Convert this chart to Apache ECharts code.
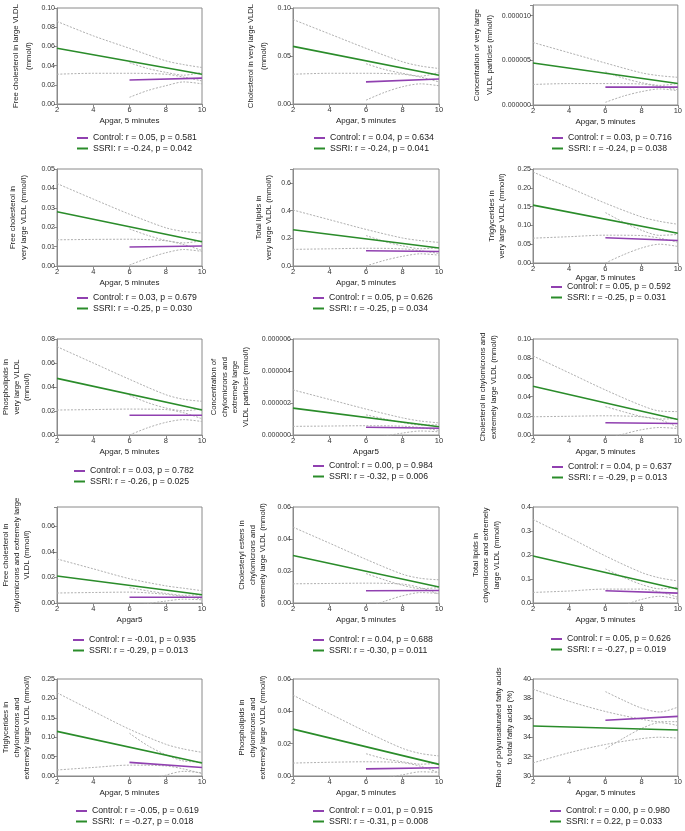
<!DOCTYPE html>
<html>
<head>
<meta charset="utf-8">
<script src="https://cdn.jsdelivr.net/npm/echarts@6/dist/echarts.min.js"></script>
<style>
  html, body { margin: 0; background: #fff; }
  #chart { width: 685px; height: 831px; }
</style>
</head>
<body>
<div id="chart"></div>
<script>
  // x positions of the read points
  const ssriX = [2, 10]
  const ssriCiX = [2, 4, 6, 8, 9, 10]
  const ctrlX = [6, 10]
  const ctrlCiX = [6, 7, 8, 9, 10]

  const yTitles = [
    'Free cholesterol in large VLDL\n(mmol/l)',
    'Cholesterol in very large VLDL\n(mmol/l)',
    'Concentration of very large\nVLDL particles (mmol/l)',
    'Free cholesterol in\nvery large VLDL (mmol/l)',
    'Total lipids in\nvery large VLDL (mmol/l)',
    'Triglycerides in\nvery large VLDL (mmol/l)',
    'Phospholipids in\nvery large VLDL\n(mmol/l)',
    'Concentration of\nchylomicrons and\nextremely large\nVLDL particles (mmol/l)',
    'Cholesterol in chylomicrons and\nextremely large VLDL (mmol/l)',
    'Free cholesterol in\nchylomicrons and extremely large\nVLDL (mmol/l)',
    'Cholesteryl esters in\nchylomicrons and\nextremely large VLDL (mmol/l)',
    'Total lipids in\nchylomicrons and extremely\nlarge VLDL (mmol/l)',
    'Triglycerides in\nchylomicrons and\nextremely large VLDL (mmol/l)',
    'Phospholipids in\nchylomicrons and\nextremely large VLDL (mmol/l)',
    'Ratio of polyunsaturated fatty acids\nto total fatty acids (%)'
  ]
  const xTitles = [
    'Apgar, 5 minutes', 'Apgar, 5 minutes', 'Apgar, 5 minutes',
    'Apgar, 5 minutes', 'Apgar, 5 minutes', 'Apgar, 5 minutes',
    'Apgar, 5 minutes', 'Apgar5', 'Apgar, 5 minutes',
    'Apgar5', 'Apgar, 5 minutes', 'Apgar, 5 minutes',
    'Apgar, 5 minutes', 'Apgar, 5 minutes', 'Apgar, 5 minutes'
  ]
  const ctrlLabels = [
    'Control: r = 0.05, p = 0.581', 'Control: r = 0.04, p = 0.634', 'Control: r = 0.03, p = 0.716',
    'Control: r = 0.03, p = 0.679', 'Control: r = 0.05, p = 0.626', 'Control: r = 0.05, p = 0.592',
    'Control: r = 0.03, p = 0.782', 'Control: r = 0.00, p = 0.984', 'Control: r = 0.04, p = 0.637',
    'Control: r = -0.01, p = 0.935', 'Control: r = 0.04, p = 0.688', 'Control: r = 0.05, p = 0.626',
    'Control: r = -0.05, p = 0.619', 'Control: r = 0.01, p = 0.915', 'Control: r = 0.00, p = 0.980'
  ]
  const ssriLabels = [
    'SSRI: r = -0.24, p = 0.042', 'SSRI: r = -0.24, p = 0.041', 'SSRI: r = -0.24, p = 0.038',
    'SSRI: r = -0.25, p = 0.030', 'SSRI: r = -0.25, p = 0.034', 'SSRI: r = -0.25, p = 0.031',
    'SSRI: r = -0.26, p = 0.025', 'SSRI: r = -0.32, p = 0.006', 'SSRI: r = -0.29, p = 0.013',
    'SSRI: r = -0.29, p = 0.013', 'SSRI: r = -0.30, p = 0.011', 'SSRI: r = -0.27, p = 0.019',
    'SSRI:  r = -0.27, p = 0.018', 'SSRI: r = -0.31, p = 0.008', 'SSRI: r = 0.22, p = 0.033'
  ]

  // y axis ranges and tick steps
  const yMin = [0, 0, 0, 0, 0, 0, 0, 0, 0, 0, 0, 0, 0, 0, 30]
  const yMax = [0.10, 0.10, 0.0000112, 0.05, 0.7, 0.25, 0.08, 0.000006, 0.10, 0.075, 0.06, 0.4, 0.25, 0.06, 40]
  const yStep = [0.02, 0.05, 0.000005, 0.01, 0.2, 0.05, 0.02, 0.000002, 0.02, 0.02, 0.02, 0.1, 0.05, 0.02, 2]
  const yDecimals = [2, 2, 6, 2, 1, 2, 2, 6, 2, 2, 2, 1, 2, 2, 0]

  // SSRI regression line at x = 2 and 10
  const ssriLine = [
    [0.058, 0.031], [0.060, 0.030], [0.0000047, 0.0000024],
    [0.028, 0.0125], [0.262, 0.13], [0.154, 0.079],
    [0.0472, 0.0208], [0.00000168, 0.00000052], [0.0507, 0.0162],
    [0.0211, 0.0064], [0.0297, 0.010], [0.196, 0.058],
    [0.115, 0.0335], [0.029, 0.0072], [35.15, 34.75]
  ]
  // SSRI 95% band at x = 2, 4, 6, 8, 9, 10
  const ssriUpper = [
    [0.086, 0.071, 0.058, 0.045, 0.041, 0.038],
    [0.088, 0.073, 0.058, 0.044, 0.0395, 0.037],
    [0.0000070, 0.00000585, 0.0000047, 0.0000036, 0.00000328, 0.0000031],
    [0.0425, 0.0345, 0.0267, 0.0197, 0.0178, 0.017],
    [0.404, 0.334, 0.264, 0.202, 0.183, 0.17],
    [0.242, 0.2005, 0.159, 0.1225, 0.1108, 0.103],
    [0.0736, 0.060, 0.0464, 0.0336, 0.0297, 0.0281],
    [0.00000282, 0.00000222, 0.00000162, 0.00000107, 0.00000087, 0.00000076],
    [0.0824, 0.0647, 0.0469, 0.0307, 0.025, 0.0244],
    [0.0344, 0.0267, 0.019, 0.0134, 0.0115, 0.0096],
    [0.0474, 0.0374, 0.0273, 0.018, 0.0154, 0.0145],
    [0.348, 0.273, 0.196, 0.127, 0.1045, 0.092],
    [0.2145, 0.167, 0.1205, 0.0818, 0.0694, 0.061],
    [0.050, 0.0386, 0.0274, 0.0171, 0.0139, 0.0124],
    [38.95, 37.7, 36.65, 35.85, 35.6, 35.6]
  ]
  const ssriLower = [
    [0.031, 0.032, 0.032, 0.031, 0.028, 0.024],
    [0.031, 0.032, 0.032, 0.031, 0.028, 0.023],
    [0.0000023, 0.0000024, 0.0000024, 0.00000235, 0.0000021, 0.0000017],
    [0.0135, 0.0137, 0.0138, 0.013, 0.011, 0.008],
    [0.12, 0.124, 0.128, 0.124, 0.11, 0.09],
    [0.066, 0.070, 0.074, 0.073, 0.066, 0.055],
    [0.0208, 0.0212, 0.0216, 0.0212, 0.0185, 0.0135],
    [0.00000054, 0.00000056, 0.00000058, 0.00000055, 0.00000046, 0.00000028],
    [0.019, 0.0195, 0.020, 0.019, 0.016, 0.008],
    [0.0078, 0.0082, 0.0085, 0.0068, 0.005, 0.0032],
    [0.012, 0.0122, 0.0124, 0.0118, 0.0095, 0.0055],
    [0.044, 0.05, 0.058, 0.058, 0.046, 0.024],
    [0.0155, 0.022, 0.028, 0.026, 0.018, 0.006],
    [0.008, 0.0085, 0.0088, 0.0082, 0.006, 0.002],
    [31.35, 32.4, 33.25, 33.85, 34.0, 33.9]
  ]

  // Control regression line at x = 6 and 10
  const ctrlLine = [
    [0.025, 0.027], [0.023, 0.026], [0.0000020, 0.0000020],
    [0.0098, 0.0103], [0.11, 0.105], [0.067, 0.060],
    [0.0165, 0.0165], [0.00000048, 0.00000042], [0.0128, 0.012],
    [0.0045, 0.0045], [0.0077, 0.0078], [0.051, 0.041],
    [0.035, 0.022], [0.0044, 0.0051], [35.75, 36.15]
  ]
  // Control 95% band at x = 6, 7, 8, 9, 10
  const ctrlUpper = [
    [0.043, 0.037, 0.033, 0.030, 0.033],
    [0.042, 0.036, 0.032, 0.029, 0.033],
    [0.0000037, 0.0000030, 0.0000025, 0.0000022, 0.0000024],
    [0.0191, 0.0158, 0.0132, 0.0119, 0.0131],
    [0.22, 0.1775, 0.145, 0.1245, 0.132],
    [0.134, 0.1085, 0.087, 0.0735, 0.076],
    [0.033, 0.027, 0.0225, 0.0202, 0.0218],
    [0.00000126, 0.00000101, 0.00000078, 0.00000062, 0.00000064],
    [0.0296, 0.0242, 0.0193, 0.0166, 0.0172],
    [0.012, 0.0095, 0.0075, 0.006, 0.0065],
    [0.0184, 0.0145, 0.0111, 0.009, 0.0096],
    [0.142, 0.107, 0.077, 0.059, 0.066],
    [0.11, 0.0785, 0.055, 0.0385, 0.036],
    [0.0138, 0.0107, 0.0088, 0.0073, 0.008],
    [38.7, 37.8, 37.0, 36.6, 37.1]
  ]
  const ctrlLower = [
    [0.007, 0.014, 0.019, 0.023, 0.021],
    [0.004, 0.012, 0.018, 0.021, 0.019],
    [0.0000003, 0.0000010, 0.0000015, 0.0000018, 0.0000016],
    [0.0005, 0.004, 0.0068, 0.0085, 0.0075],
    [0.0, 0.04, 0.07, 0.088, 0.078],
    [0.0, 0.022, 0.040, 0.050, 0.044],
    [0.0, 0.006, 0.0105, 0.0128, 0.0112],
    [-0.0000003, -0.00000008, 0.00000012, 0.00000025, 0.0000002],
    [-0.004, 0.001, 0.0055, 0.0078, 0.0068],
    [-0.003, -0.0005, 0.0015, 0.003, 0.0025],
    [-0.003, 0.001, 0.0045, 0.0065, 0.006],
    [-0.04, -0.01, 0.015, 0.028, 0.016],
    [-0.04, -0.015, 0.002, 0.012, 0.008],
    [-0.005, -0.0015, 0.0007, 0.0026, 0.0022],
    [32.8, 33.9, 34.9, 35.5, 35.2]
  ]

  // layout
  const colLeft = [57, 293, 533]
  const colWidth = [145, 146, 145]
  const rowTop = [8, 169, 339, 507, 679]
  const rowHeight = [96, 97, 96, 96, 97]
  const rowNameLineH = [13.5, 10.5, 10.5, 10.5, 10.5]
  const yNameGap = [21, 22, 36, 28, 18.5, 25.5, 24.5, 42, 34, 24.5, 24.5, 31, 24.5, 24.5, 18]
  const xNameGap = [13, 13, 13, 13, 13, 8, 13, 13, 13, 13, 13, 13, 13, 13, 13]
  const legendLeft = [77, 314, 552, 77, 313, 551, 74, 313, 552, 73, 313, 551, 76, 313, 550]
  const legendY = [138, 138, 138, 298, 298, 287, 471, 466, 467, 640, 640, 639, 811, 811, 811]

  const font = "'Liberation Sans', Arial, sans-serif"
  const green = '#2a8c2a'
  const purple = '#9040b0'
  const ciColor = '#b0b0b0'
  const axisColor = '#8a8a8a'
  const textColor = '#222'

  const pairs = (xs, ys) => xs.map((x, k) => [x, ys[k]])

  const grid = []
  const xAxis = []
  const yAxis = []
  const legend = []
  const series = []

  for (let i = 0; i < 15; i++) {
    const col = i % 3
    const row = Math.floor(i / 3)
    let top = rowTop[row]
    let height = rowHeight[row]
    if (i === 2) { top = 5; height = 100 }
    if (i === 5) { height = 94 } // this panel sits a little shorter
    grid.push({
      left: colLeft[col], top: top, width: colWidth[col], height: height,
      show: true, borderColor: axisColor, borderWidth: 1, backgroundColor: 'transparent'
    })
    xAxis.push({
      gridIndex: i, type: 'value', min: 2, max: 10, interval: 2,
      name: xTitles[i], nameLocation: 'middle', nameGap: xNameGap[i],
      nameTextStyle: { fontSize: 8, color: textColor, fontFamily: font },
      axisLine: { show: true, lineStyle: { color: axisColor, width: 1 } },
      axisTick: { show: true, length: 3, lineStyle: { color: axisColor } },
      axisLabel: { fontSize: 7.5, color: '#333', margin: 2, fontFamily: font },
      splitLine: { show: false }
    })
    const step = yStep[i]
    const base = yMin[i]
    const dec = yDecimals[i]
    yAxis.push({
      gridIndex: i, type: 'value', min: yMin[i], max: yMax[i], interval: step,
      name: yTitles[i], nameLocation: 'middle', nameGap: yNameGap[i], nameRotate: 90,
      nameTextStyle: { fontSize: 7.7, lineHeight: rowNameLineH[row], color: textColor, fontFamily: font, align: 'center' },
      axisLine: { show: true, lineStyle: { color: axisColor, width: 1 } },
      axisTick: { show: true, length: 3, lineStyle: { color: axisColor } },
      axisLabel: {
        fontSize: 7, color: '#333', margin: 2, fontFamily: font,
        formatter: (v) => {
          const k = (v - base) / step
          return Math.abs(k - Math.round(k)) < 1e-6 ? v.toFixed(dec) : ''
        }
      },
      splitLine: { show: false }
    })
    legend.push({
      left: legendLeft[i], top: legendY[i] - 5.25, orient: 'vertical',
      itemGap: 0, itemWidth: 11, itemHeight: 2, icon: 'rect', padding: 0,
      selectedMode: false,
      textStyle: { fontSize: 8.7, lineHeight: 10.5, color: textColor, fontFamily: font },
      data: [
        { name: ctrlLabels[i], itemStyle: { color: purple } },
        { name: ssriLabels[i], itemStyle: { color: green } }
      ]
    })

    const ciStyle = { color: ciColor, width: 1, type: [2, 1.5] }
    const base2 = { type: 'line', xAxisIndex: i, yAxisIndex: i, symbol: 'none', silent: true, animation: false }
    series.push({ ...base2, name: 'ssri upper ' + i, data: pairs(ssriCiX, ssriUpper[i]), smooth: 0.3, lineStyle: ciStyle, z: 1 })
    series.push({ ...base2, name: 'ssri lower ' + i, data: pairs(ssriCiX, ssriLower[i]), smooth: 0.3, lineStyle: ciStyle, z: 1 })
    series.push({ ...base2, name: 'ctrl upper ' + i, data: pairs(ctrlCiX, ctrlUpper[i]), smooth: 0.3, lineStyle: ciStyle, z: 1 })
    series.push({ ...base2, name: 'ctrl lower ' + i, data: pairs(ctrlCiX, ctrlLower[i]), smooth: 0.3, lineStyle: ciStyle, z: 1 })
    series.push({ ...base2, name: ssriLabels[i], data: pairs(ssriX, ssriLine[i]), lineStyle: { color: green, width: 1.6 }, itemStyle: { color: green }, z: 3 })
    series.push({ ...base2, name: ctrlLabels[i], data: pairs(ctrlX, ctrlLine[i]), lineStyle: { color: purple, width: 1.6 }, itemStyle: { color: purple }, z: 4 })
  }

  const myChart = echarts.init(document.getElementById('chart'))
  myChart.setOption({
    backgroundColor: '#fff',
    animation: false,
    textStyle: { fontFamily: font },
    grid: grid,
    xAxis: xAxis,
    yAxis: yAxis,
    legend: legend,
    series: series
  })
</script>
</body>
</html>
